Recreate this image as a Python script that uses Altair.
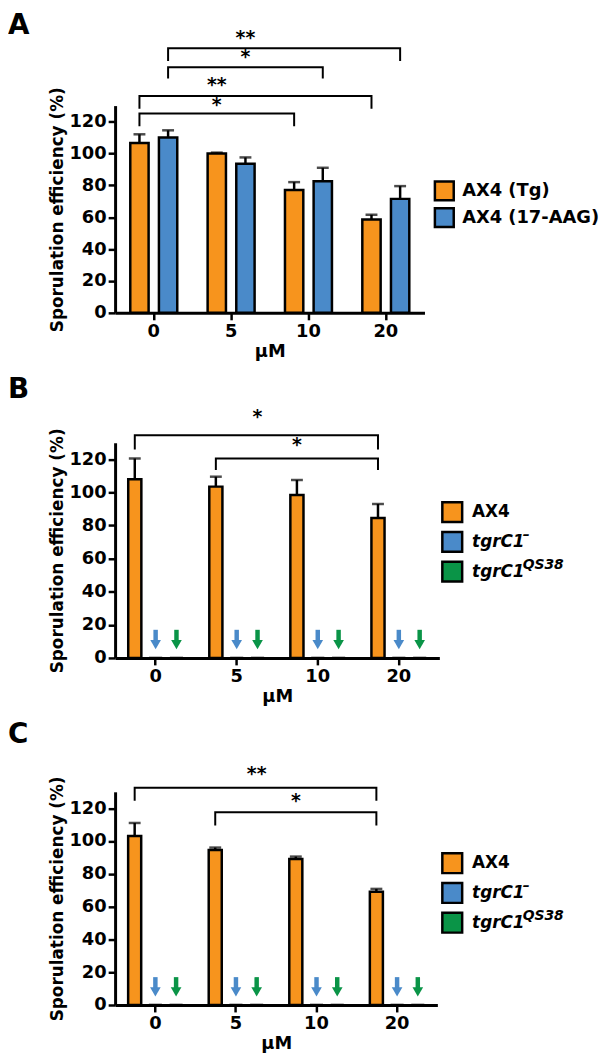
import altair as alt
import pandas as pd

FONT = "DejaVu Sans"
ORANGE = "#F7941D"
BLUE = "#4A8AC9"
GREEN = "#0A9447"

CONC = ["0", "5", "10", "20"]
Y_TICKS = [0, 20, 40, 60, 80, 100, 120]
Y_MAX = 130

# Panel A
A_SERIES = ["AX4 (Tg)", "AX4 (17-AAG)"]
A_TG_MEAN = [106.5, 100.0, 77.0, 58.5]
A_TG_SEM = [5.5, 0.5, 5.0, 3.0]
A_AAG_MEAN = [110.0, 93.5, 82.5, 71.5]
A_AAG_SEM = [4.5, 4.0, 8.5, 8.0]
# bracket: from (conc, series) to (conc, series), top, leg, label, star anchor (conc, series), star y
A_BRACKETS = [
    ("0", "AX4 (17-AAG)", "20", "AX4 (17-AAG)", 166, 158, "**", "5", "AX4 (17-AAG)", 172),
    ("0", "AX4 (17-AAG)", "10", "AX4 (17-AAG)", 154, 147, "*", "5", "AX4 (17-AAG)", 160),
    ("0", "AX4 (Tg)", "20", "AX4 (Tg)", 136, 128, "**", "5", "AX4 (Tg)", 142.5),
    ("0", "AX4 (Tg)", "10", "AX4 (Tg)", 125, 117, "*", "5", "AX4 (Tg)", 130),
]

# Panels B and C
BC_SERIES = ["AX4", "tgrC1–", "tgrC1QS38"]
BC_NAMES = ["AX4", "tgrC1", "tgrC1"]
BC_SUPS = ["", "–", "QS38"]
MUTANT_MEAN = [0, 0, 0, 0]
MUTANT_SEM = [0, 0, 0, 0]
ARROW_TOP = 17
ARROW_NECK = 10
ARROW_HEAD = 8

B_AX4_MEAN = [108.0, 103.5, 98.5, 84.5]
B_AX4_SEM = [12.5, 6.0, 9.0, 8.5]
B_BRACKETS = [
    ("0", "AX4", "20", "AX4", 134.5, 126, "*", "5", "tgrC1QS38", 145),
    ("5", "AX4", "20", "AX4", 120.5, 113.5, "*", "10", "AX4", 128),
]

C_AX4_MEAN = [103.0, 94.5, 89.0, 69.0]
C_AX4_SEM = [8.0, 1.5, 1.5, 1.8]
C_BRACKETS = [
    ("0", "AX4", "20", "AX4", 132.5, 124.5, "**", "5", "tgrC1QS38", 140.5),
    ("5", "AX4", "20", "AX4", 117.5, 109.5, "*", "10", "AX4", 123.5),
]


def panel(letter, series, colors, means, sems, brackets, names, sups, italic_from,
          width, height, pin, pout, leg_x, leg_text_x, leg_range, leg_size, leg_font,
          label_y, arrows):
    rows = []
    for s, m_list, e_list in zip(series, means, sems):
        for c, m, e in zip(CONC, m_list, e_list):
            rows.append({"conc": c, "series": s, "mean": m, "upper": m + e})
    df = pd.DataFrame(rows)

    xaxis = alt.Axis(title="μM", labelAngle=0, tickSize=7, labelPadding=3, titlePadding=2)
    yaxis = alt.Axis(title="Sporulation efficiency (%)", values=Y_TICKS, tickSize=7,
                     labelPadding=2, titlePadding=2)
    yscale = alt.Scale(domain=[0, Y_MAX], nice=False, zero=True)
    X = alt.X("conc:N", sort=CONC, scale=alt.Scale(paddingInner=0, paddingOuter=0), axis=xaxis)
    XO = alt.XOffset("series:N", sort=series,
                     scale=alt.Scale(domain=series, paddingInner=pin, paddingOuter=pout))
    color = alt.Color("series:N", scale=alt.Scale(domain=series, range=colors), legend=None)

    base = alt.Chart(df)
    bars = base.mark_bar(stroke="black", strokeWidth=2.5, opacity=1).encode(
        x=X, xOffset=XO, y=alt.Y("mean:Q", scale=yscale, axis=yaxis), color=color)
    err = base.transform_filter("datum.upper > datum.mean").mark_rule(
        color="black", strokeWidth=2.5).encode(
        x=X, xOffset=XO, y=alt.Y("mean:Q", scale=yscale, axis=yaxis), y2="upper:Q")
    caps = base.transform_filter("datum.upper > datum.mean").mark_tick(
        color="black", size=12, thickness=2.5).encode(
        x=X, xOffset=XO, y=alt.Y("upper:Q", scale=yscale, axis=yaxis))

    brows, srows = [], []
    for i, (c1, s1, c2, s2, top, leg, lab, sc, ss, sy) in enumerate(brackets):
        brows += [
            {"b": i, "k": 0, "conc": c1, "series": s1, "y": leg},
            {"b": i, "k": 1, "conc": c1, "series": s1, "y": top},
            {"b": i, "k": 2, "conc": c2, "series": s2, "y": top},
            {"b": i, "k": 3, "conc": c2, "series": s2, "y": leg},
        ]
        srows.append({"conc": sc, "series": ss, "y": sy, "lab": lab})
    blines = alt.Chart(pd.DataFrame(brows)).mark_line(
        color="black", strokeWidth=2, strokeJoin="miter", strokeCap="butt").encode(
        x=X, xOffset=XO, y=alt.Y("y:Q", scale=yscale, axis=yaxis),
        detail="b:N", order="k:Q")
    stars = alt.Chart(pd.DataFrame(srows)).mark_text(
        font=FONT, fontSize=19, fontWeight="bold", baseline="alphabetic", dy=5,
        color="black").encode(
        x=X, xOffset=XO, y=alt.Y("y:Q", scale=yscale, axis=yaxis), text="lab:N")

    layers = [bars, err, caps, blines, stars]
    if arrows:
        arows = []
        for s in series[1:]:
            for c in CONC:
                arows.append({"conc": c, "series": s, "top": ARROW_TOP,
                              "neck": ARROW_NECK, "head": ARROW_HEAD})
        adf = alt.Chart(pd.DataFrame(arows))
        shaft = adf.mark_rule(strokeWidth=4.5).encode(
            x=X, xOffset=XO, y=alt.Y("top:Q", scale=yscale, axis=yaxis), y2="neck:Q",
            color=color)
        head = adf.mark_point(shape="triangle-down", filled=True, size=115, opacity=1).encode(
            x=X, xOffset=XO, y=alt.Y("head:Q", scale=yscale, axis=yaxis), color=color)
        layers += [shaft, head]
    inner = alt.layer(*layers)

    ldf = pd.DataFrame({"series": series, "name": names, "sup": sups,
                        "idx": list(range(len(series)))})
    leg = alt.Chart(ldf)
    LY = alt.Y("series:N", sort=series,
               scale=alt.Scale(type="point", domain=series, range=leg_range, padding=0),
               axis=None)
    sq = leg.mark_square(size=leg_size, stroke="black", strokeWidth=2.5, opacity=1).encode(
        x=alt.value(leg_x), y=LY, color=color)
    txt_n = leg.transform_filter(f"datum.idx < {italic_from}").mark_text(
        font=FONT, fontSize=leg_font, fontWeight="bold", align="left", baseline="middle",
        color="black").encode(x=alt.value(leg_text_x), y=LY, text="name:N")
    legl = [sq, txt_n]
    if italic_from < len(series):
        txt_i = leg.transform_filter(f"datum.idx >= {italic_from}").mark_text(
            font=FONT, fontSize=leg_font, fontWeight="bold", fontStyle="italic",
            align="left", baseline="middle", color="black").encode(
            x=alt.value(leg_text_x), y=LY, text="name:N")
        txt_s = leg.transform_filter(f"datum.idx >= {italic_from}").mark_text(
            font=FONT, fontSize=14, fontWeight="bold", fontStyle="italic",
            align="left", baseline="middle", dx=51, dy=-7, color="black").encode(
            x=alt.value(leg_text_x), y=LY, text="sup:N")
        legl += [txt_i, txt_s]
    lab = alt.Chart(pd.DataFrame({"t": [letter]})).mark_text(
        font=FONT, fontSize=28, fontWeight="bold", align="left", baseline="alphabetic",
        color="black").encode(x=alt.value(-108), y=alt.value(label_y), text="t:N")
    legl.append(lab)
    outer = alt.layer(inner, alt.layer(*legl)).resolve_scale(y="independent")
    return outer.properties(width=width, height=height)


pA = panel("A", A_SERIES, [ORANGE, BLUE], [A_TG_MEAN, A_AAG_MEAN], [A_TG_SEM, A_AAG_SEM],
           A_BRACKETS, A_SERIES, ["", ""], 2, 312, 209, 0.36, 0.53,
           332, 350, [86, 113], 361, 18, -72, False)
pB = panel("B", BC_SERIES, [ORANGE, BLUE, GREEN], [B_AX4_MEAN, MUTANT_MEAN, MUTANT_MEAN],
           [B_AX4_SEM, MUTANT_SEM, MUTANT_SEM], B_BRACKETS, BC_NAMES, BC_SUPS, 1,
           327, 217, 0.37, 0.63, 340, 360, [70, 130], 400, 17, -45, True)
pC = panel("C", BC_SERIES, [ORANGE, BLUE, GREEN], [C_AX4_MEAN, MUTANT_MEAN, MUTANT_MEAN],
           [C_AX4_SEM, MUTANT_SEM, MUTANT_SEM], C_BRACKETS, BC_NAMES, BC_SUPS, 1,
           325, 215, 0.37, 0.63, 340, 360, [72, 132], 400, 17, -49, True)

chart = alt.vconcat(pA, pB, pC, spacing=16).resolve_scale(
    color="independent", xOffset="independent", x="independent", y="independent"
).properties(
    padding={"left": 0, "top": 0, "right": 0, "bottom": 0}
).configure_view(stroke=None).configure_axis(
    domainColor="black", domainWidth=3, tickColor="black", tickWidth=2.5,
    labelFont=FONT, labelFontSize=18, labelFontWeight="bold", labelColor="black",
    titleFont=FONT, titleFontSize=18, titleFontWeight="bold", titleColor="black",
    grid=False,
).configure_axisY(titleFontSize=17)

chart.save("out.html", embed_options={"renderer": "svg", "actions": False})
